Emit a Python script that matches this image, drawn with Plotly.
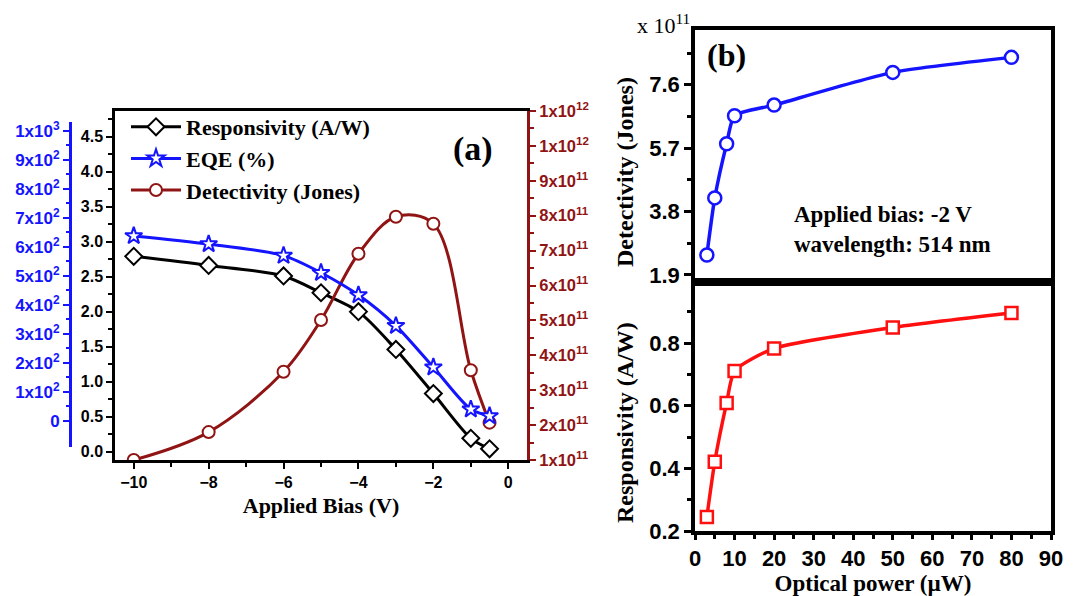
import plotly.graph_objects as go

W, H = 1078, 596

# ---- Panel (a): figures of merit vs applied bias ----
bias_v = [-10, -8, -6, -5, -4, -3, -2, -1, -0.5]
responsivity_aw = [2.79, 2.66, 2.51, 2.27, 2.00, 1.46, 0.83, 0.19, 0.04]
eqe_pct = [638, 610, 570, 511, 434, 328, 185, 40, 17]
detectivity_jones = [1.00e11, 1.80e11, 3.53e11, 5.01e11, 6.91e11, 7.97e11, 7.77e11, 3.57e11, 2.07e11]

resp_ticks = [0.0, 0.5, 1.0, 1.5, 2.0, 2.5, 3.0, 3.5, 4.0, 4.5]
eqe_tick_vals = [0, 100, 200, 300, 400, 500, 600, 700, 800, 900, 1000]
eqe_tick_text = ["0"] + [f"{k}x10<sup>2</sup>" for k in range(1, 10)] + ["1x10<sup>3</sup>"]
det_tick_vals = [k * 1e11 for k in range(1, 12)]
det_tick_text = [f"{k}x10<sup>11</sup>" for k in range(1, 10)] + ["1x10<sup>12</sup>", "1x10<sup>12</sup>"]

# ---- Panel (b): figures of merit vs optical power (-2 V, 514 nm) ----
power_uw = [3, 5, 8, 10, 20, 50, 80]
det_power_e11 = [2.50, 4.21, 5.83, 6.67, 6.99, 7.97, 8.42]
resp_power_aw = [0.245, 0.421, 0.609, 0.711, 0.783, 0.850, 0.896]

BLACK = "#000000"
BLUE = "#1414ff"
DARKRED = "#901414"
RED = "#ff1010"
SERIF = "Liberation Serif"
SANS = "Liberation Sans"


def px_x(p):
    return p / W


def px_y(p):
    return 1 - p / H


fig = go.Figure()

fig.add_trace(go.Scatter(
    x=bias_v, y=responsivity_aw, name="Responsivity (A/W)",
    mode="lines+markers", line=dict(color=BLACK, width=3, shape="spline", smoothing=0.8),
    marker=dict(symbol="diamond", size=13, color="white", line=dict(color=BLACK, width=2)),
    xaxis="x", yaxis="y"))
fig.add_trace(go.Scatter(
    x=bias_v, y=eqe_pct, name="EQE (%)",
    mode="lines+markers", line=dict(color=BLUE, width=3, shape="spline", smoothing=0.8),
    marker=dict(symbol="star", size=13, color="white", line=dict(color=BLUE, width=2)),
    xaxis="x", yaxis="y3"))
fig.add_trace(go.Scatter(
    x=bias_v, y=detectivity_jones, name="Detectivity (Jones)",
    mode="lines+markers", line=dict(color=DARKRED, width=3, shape="spline", smoothing=1.0),
    marker=dict(symbol="circle", size=12, color="white", line=dict(color=DARKRED, width=2)),
    xaxis="x", yaxis="y2"))

fig.add_trace(go.Scatter(
    x=power_uw, y=det_power_e11, mode="lines+markers", showlegend=False,
    line=dict(color=BLUE, width=3.5, shape="spline", smoothing=0.6),
    marker=dict(symbol="circle", size=13, color="white", line=dict(color=BLUE, width=2.5)),
    xaxis="x5", yaxis="y5"))
fig.add_trace(go.Scatter(
    x=power_uw, y=resp_power_aw, mode="lines+markers", showlegend=False,
    line=dict(color=RED, width=3.5, shape="spline", smoothing=0.6),
    marker=dict(symbol="square", size=12, color="white", line=dict(color=RED, width=2.5)),
    xaxis="x4", yaxis="y4"))

tick_a = dict(family=SANS, size=16, color=BLACK, weight="bold")
tick_b = dict(family=SANS, size=22, color=BLACK, weight="bold")

dom_ax = [px_x(115), px_x(527)]
dom_ay = [px_y(460), px_y(111)]
dom_bx = [px_x(695), px_x(1051)]
dom_by_low = [px_y(531), px_y(282)]
dom_by_up = [px_y(282), px_y(30)]

common = dict(showgrid=False, zeroline=False, automargin=False)

fig.update_layout(
    template="none",
    width=W, height=H, autosize=False,
    margin=dict(l=0, r=0, t=0, b=0, pad=0),
    paper_bgcolor="white", plot_bgcolor="rgba(0,0,0,0)",
    font=dict(family=SERIF, color=BLACK),
    showlegend=True,
    legend=dict(x=px_x(126), y=px_y(106), xanchor="left", yanchor="top",
                bgcolor="rgba(0,0,0,0)", tracegroupgap=0, itemwidth=50,
                font=dict(family=SERIF, size=22, color=BLACK, weight="bold")),
    xaxis=dict(domain=dom_ax, range=[-10.5, 0.5], anchor="y",
               tickmode="linear", tick0=-10, dtick=2, ticks="outside", ticklen=6, tickwidth=2,
               minor=dict(dtick=1, ticks="outside", ticklen=4, tickwidth=2, tickcolor=BLACK),
               tickcolor=BLACK, showline=True, linecolor=BLACK, linewidth=2.5, mirror=True,
               tickfont=tick_a,
               title=dict(text="Applied Bias (V)", standoff=8,
                          font=dict(family=SERIF, size=22, color=BLACK, weight="bold")),
               **common),
    yaxis=dict(domain=dom_ay, range=[-0.12, 4.867], anchor="x",
               tickvals=resp_ticks, ticktext=[f"{v:.1f}" for v in resp_ticks],
               ticks="outside", ticklen=6, tickwidth=2, tickcolor=BLACK,
               minor=dict(tickvals=[v + 0.25 for v in resp_ticks], ticks="outside", ticklen=4,
                          tickwidth=2, tickcolor=BLACK),
               showline=True, linecolor=BLACK, linewidth=2.5,
               tickfont=tick_a, **common),
    yaxis2=dict(overlaying="y", side="right", anchor="x", range=[1e11, 1.1e12],
                tickvals=det_tick_vals, ticktext=det_tick_text,
                ticks="outside", ticklen=6, tickwidth=2, tickcolor=DARKRED,
                minor=dict(tickvals=[v + 0.5e11 for v in det_tick_vals[:-1]], ticks="outside",
                           ticklen=4, tickwidth=2, tickcolor=DARKRED),
                showline=True, linecolor=DARKRED, linewidth=3,
                tickfont=dict(family=SANS, size=16.5, color=DARKRED, weight="bold"), **common),
    yaxis3=dict(domain=[px_y(447), px_y(122)], anchor="free", position=px_x(70), side="left",
                range=[-90, 1031], tickvals=eqe_tick_vals, ticktext=eqe_tick_text,
                ticks="outside", ticklen=6, tickwidth=2, tickcolor=BLUE,
                minor=dict(tickvals=[v + 50 for v in eqe_tick_vals[:-1]], ticks="outside",
                           ticklen=3, tickwidth=2, tickcolor=BLUE),
                showline=True, linecolor=BLUE, linewidth=3,
                tickfont=dict(family=SANS, size=17, color=BLUE, weight="bold"), **common),
    xaxis4=dict(domain=dom_bx, range=[0, 90], anchor="y4",
                tickmode="linear", tick0=0, dtick=10, ticks="outside", ticklen=5, tickwidth=2.5,
                tickcolor=BLACK,
                minor=dict(dtick=5, ticks="outside", ticklen=4, tickwidth=2.5, tickcolor=BLACK),
                showline=True, linecolor=BLACK, linewidth=3.5, mirror=True,
                tickfont=tick_b,
                title=dict(text="Optical power (\u00b5W)", standoff=7,
                           font=dict(family=SERIF, size=23, color=BLACK, weight="bold")),
                **common),
    yaxis4=dict(domain=dom_by_low, range=[0.2, 0.995], anchor="x4",
                tickmode="linear", tick0=0.2, dtick=0.2, tickformat=".1f",
                ticks="outside", ticklen=7, tickwidth=2.5, tickcolor=BLACK,
                minor=dict(dtick=0.1, tick0=0.2, ticks="outside", ticklen=4, tickwidth=2.5,
                           tickcolor=BLACK),
                showline=True, linecolor=BLACK, linewidth=3.5, mirror=True,
                tickfont=tick_b, **common),
    xaxis5=dict(domain=dom_bx, range=[0, 90], anchor="y5", matches="x4",
                showticklabels=False, ticks="",
                showline=True, linecolor=BLACK, linewidth=3.5, mirror=True, **common),
    yaxis5=dict(domain=dom_by_up, range=[1.69, 9.24], anchor="x5",
                tickmode="linear", tick0=1.9, dtick=1.9, tickformat=".1f",
                ticks="outside", ticklen=7, tickwidth=2.5, tickcolor=BLACK,
                minor=dict(dtick=0.95, tick0=1.9, ticks="outside", ticklen=4, tickwidth=2.5,
                           tickcolor=BLACK),
                showline=True, linecolor=BLACK, linewidth=3.5, mirror=True,
                tickfont=tick_b, **common),
)


def serif_bold(s):
    return dict(family=SERIF, size=s, color=BLACK, weight="bold")


def label(text, cx, cy, font, **kw):
    kw.setdefault("xanchor", "center")
    fig.add_annotation(text=text, xref="paper", yref="paper", x=px_x(cx), y=px_y(cy),
                       yanchor="middle", showarrow=False, font=font, **kw)


label("(a)", 473, 149, serif_bold(34))
label("(b)", 726, 55, serif_bold(32))
label("x 10<sup>11</sup>", 692, 24, dict(family=SERIF, size=22, color=BLACK), xanchor="right")
label("Applied bias: -2 V<br>wavelength: 514 nm", 792, 229, serif_bold(23),
      xanchor="left", align="left")
label("Detectivity (Jones)", 625, 172, serif_bold(24), textangle=-90)
label("Responsivity (A/W)", 625, 423, serif_bold(24), textangle=-90)

fig.write_html("out.html")
